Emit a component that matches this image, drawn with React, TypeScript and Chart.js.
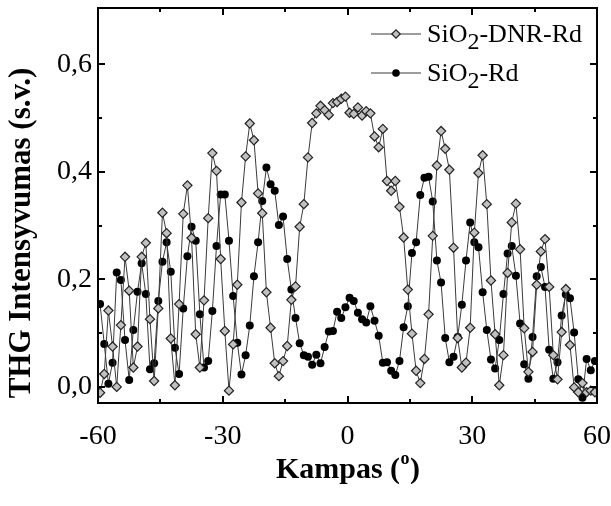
import React, { useEffect, useRef } from "react";
import { Chart, registerables } from "chart.js";

Chart.register(...registerables);

// Rotation angle (degrees) of each measurement
const angles = [
  -59.5, -58.5, -57.5, -56.5, -55.5, -54.5, -53.5, -52.5, -51.5, -50.5,
  -49.5, -48.5, -47.5, -46.5, -45.5, -44.5, -43.5, -42.5, -41.5, -40.5,
  -39.5, -38.5, -37.5, -36.5, -35.5, -34.5, -33.5, -32.5, -31.5, -30.5,
  -29.5, -28.5, -27.5, -26.5, -25.5, -24.5, -23.5, -22.5, -21.5, -20.5,
  -19.5, -18.5, -17.5, -16.5, -15.5, -14.5, -13.5, -12.5, -11.5, -10.5,
  -9.5, -8.5, -7.5, -6.5, -5.5, -4.5, -3.5, -2.5, -1.5, -0.5,
  0.5, 1.5, 2.5, 3.5, 4.5, 5.5, 6.5, 7.5, 8.5, 9.5,
  10.5, 11.5, 12.5, 13.5, 14.5, 15.5, 16.5, 17.5, 18.5, 19.5,
  20.5, 21.5, 22.5, 23.5, 24.5, 25.5, 26.5, 27.5, 28.5, 29.5,
  30.5, 31.5, 32.5, 33.5, 34.5, 35.5, 36.5, 37.5, 38.5, 39.5,
  40.5, 41.5, 42.5, 43.5, 44.5, 45.5, 46.5, 47.5, 48.5, 49.5,
  50.5, 51.5, 52.5, 53.5, 54.5, 55.5, 56.5, 57.5, 58.5, 59.5,
];

// SiO2-DNR-Rd (diamonds)
const dnrRd = [
  -0.011, 0.024, 0.142, 0.075, 0.0, 0.115, 0.242, 0.179, 0.036, 0.075,
  0.242, 0.268, 0.126, 0.011, 0.146, 0.324, 0.286, 0.09, 0.003, 0.154,
  0.322, 0.375, 0.277, 0.098, 0.036, 0.161, 0.314, 0.435, 0.402, 0.238,
  0.104, -0.007, 0.079, 0.19, 0.343, 0.429, 0.49, 0.459, 0.36, 0.323,
  0.176, 0.11, 0.044, 0.02, 0.048, 0.076, 0.162, 0.187, 0.298, 0.34,
  0.427, 0.491, 0.509, 0.523, 0.515, 0.506, 0.528, 0.53, 0.536, 0.54,
  0.51, 0.508, 0.52, 0.505, 0.513, 0.509, 0.466, 0.446, 0.48, 0.383,
  0.365, 0.383, 0.335, 0.278, 0.181, 0.099, 0.03, 0.007, 0.052, 0.135,
  0.281, 0.412, 0.476, 0.443, 0.404, 0.259, 0.091, 0.036, 0.045, 0.11,
  0.287, 0.398, 0.431, 0.34, 0.198, 0.098, 0.003, 0.059, 0.212, 0.306,
  0.341, 0.256, 0.109, 0.028, 0.065, 0.19, 0.252, 0.275, 0.186, 0.059,
  0.014, 0.102, 0.182, 0.078, -0.001, -0.01, 0.007, -0.01, -0.007, -0.01,
];

// SiO2-Rd (filled circles)
const rd = [
  0.154, 0.08, 0.006, 0.045, 0.213, 0.199, 0.087, 0.013, 0.106, 0.177,
  0.23, 0.173, 0.033, 0.044, 0.16, 0.233, 0.269, 0.214, 0.073, 0.024,
  0.146, 0.243, 0.298, 0.272, 0.135, 0.036, 0.048, 0.141, 0.262, 0.358,
  0.358, 0.272, 0.169, 0.082, 0.023, 0.059, 0.114, 0.206, 0.269, 0.346,
  0.408, 0.377, 0.365, 0.301, 0.317, 0.238, 0.181, 0.128, 0.081, 0.059,
  0.056, 0.041, 0.06, 0.044, 0.074, 0.103, 0.104, 0.14, 0.128, 0.148,
  0.166, 0.16, 0.138, 0.126, 0.12, 0.15, 0.123, 0.095, 0.045, 0.046,
  0.03, 0.022, 0.048, 0.111, 0.15, 0.249, 0.269, 0.357, 0.389, 0.391,
  0.345, 0.235, 0.194, 0.091, 0.046, 0.056, 0.093, 0.153, 0.235, 0.306,
  0.269, 0.26, 0.176, 0.106, 0.051, 0.034, 0.087, 0.173, 0.248, 0.262,
  0.207, 0.118, 0.042, 0.015, 0.093, 0.206, 0.223, 0.186, 0.069, 0.015,
  0.046, 0.133, 0.172, 0.165, 0.101, 0.014, -0.02, 0.052, 0.031, 0.048,
];

const seriesNames = ["SiO2-DNR-Rd", "SiO2-Rd"];
const xTicks = [-60, -30, 0, 30, 60];
const xMinorTicks = [-45, -15, 15, 45];
const yTicks = [0, 0.2, 0.4, 0.6];
const yMinorTicks = [0.1, 0.3, 0.5];
const xTitle = ["Kampas (", "o", ")"];
const yTitle = "THG Intensyvumas (s.v.)";

const SERIF = "'Liberation Serif', 'Times New Roman', serif";
const DIAMOND_FILL = "#c0c0c0";
const LINE_COLOR = "#3a3a3a";

function drawMarker(ctx: CanvasRenderingContext2D, kind: string, x: number, y: number, r: number) {
  ctx.beginPath();
  if (kind === "diamond") {
    ctx.moveTo(x - r, y);
    ctx.lineTo(x, y - r);
    ctx.lineTo(x + r, y);
    ctx.lineTo(x, y + r);
    ctx.closePath();
    ctx.fillStyle = DIAMOND_FILL;
    ctx.fill();
    ctx.strokeStyle = "#222";
    ctx.lineWidth = 1.2;
    ctx.stroke();
  } else {
    ctx.arc(x, y, r, 0, Math.PI * 2);
    ctx.fillStyle = "#000";
    ctx.fill();
  }
}

const framePlugin = {
  id: "frameTicks",
  afterDraw(chart: any) {
    const { ctx, chartArea: a, scales } = chart;
    const xs = scales.x;
    const ys = scales.y;
    ctx.save();
    ctx.strokeStyle = "#000";
    ctx.lineWidth = 2;
    ctx.strokeRect(a.left, a.top, a.right - a.left, a.bottom - a.top);
    const xt = (v: number, len: number) => {
      const px = Math.round(xs.getPixelForValue(v));
      ctx.beginPath();
      ctx.moveTo(px, a.bottom);
      ctx.lineTo(px, a.bottom - len);
      ctx.moveTo(px, a.top);
      ctx.lineTo(px, a.top + len);
      ctx.stroke();
    };
    const yt = (v: number, len: number) => {
      const py = Math.round(ys.getPixelForValue(v));
      ctx.beginPath();
      ctx.moveTo(a.left, py);
      ctx.lineTo(a.left + len, py);
      ctx.moveTo(a.right, py);
      ctx.lineTo(a.right - len, py);
      ctx.stroke();
    };
    xTicks.forEach((v) => xt(v, 7));
    xMinorTicks.forEach((v) => xt(v, 4));
    yTicks.forEach((v) => yt(v, 7));
    yMinorTicks.forEach((v) => yt(v, 4));

    // legend
    const kinds = ["diamond", "circle"];
    const rows = [a.top + 26, a.top + 65];
    seriesNames.forEach((name, i) => {
      const y = rows[i];
      const x0 = a.right - 226;
      const x1 = a.right - 176;
      ctx.strokeStyle = LINE_COLOR;
      ctx.lineWidth = 1;
      ctx.beginPath();
      ctx.moveTo(x0, y);
      ctx.lineTo(x1, y);
      ctx.stroke();
      drawMarker(ctx, kinds[i], (x0 + x1) / 2, y, kinds[i] === "diamond" ? 4.2 : 3.8);
      const idx = name.indexOf("2");
      const parts = [name.slice(0, idx), "2", name.slice(idx + 1)];
      let tx = a.right - 170;
      ctx.fillStyle = "#000";
      ctx.textBaseline = "alphabetic";
      ctx.textAlign = "left";
      const base = y + 8;
      ctx.font = `26px ${SERIF}`;
      ctx.fillText(parts[0], tx, base);
      tx += ctx.measureText(parts[0]).width;
      ctx.font = `24px ${SERIF}`;
      ctx.fillText(parts[1], tx, base + 7);
      tx += ctx.measureText(parts[1]).width;
      ctx.font = `26px ${SERIF}`;
      ctx.fillText(parts[2], tx, base);
    });

    // axis titles
    ctx.fillStyle = "#000";
    ctx.textBaseline = "alphabetic";
    ctx.textAlign = "left";
    const big = `bold 30px ${SERIF}`;
    const sup = `bold 18px ${SERIF}`;
    ctx.font = big;
    const w0 = ctx.measureText(xTitle[0]).width;
    const w2 = ctx.measureText(xTitle[2]).width;
    ctx.font = sup;
    const w1 = ctx.measureText(xTitle[1]).width;
    const cx = (a.left + a.right) / 2;
    let tx = cx - (w0 + w1 + w2) / 2;
    const by = 478;
    ctx.font = big;
    ctx.fillText(xTitle[0], tx, by);
    tx += w0;
    ctx.font = sup;
    ctx.fillText(xTitle[1], tx + 0.5, by - 14);
    tx += w1 + 1;
    ctx.font = big;
    ctx.fillText(xTitle[2], tx, by);

    ctx.translate(22, 233);
    ctx.rotate(-Math.PI / 2);
    ctx.textAlign = "center";
    ctx.textBaseline = "middle";
    ctx.font = `bold 31px ${SERIF}`;
    ctx.fillText(yTitle, 0, 0);
    ctx.restore();
  },
};

export default function App() {
  const ref = useRef<HTMLCanvasElement | null>(null);
  useEffect(() => {
    if (!ref.current) return;
    const chart = new Chart(ref.current, {
      type: "line",
      data: {
        datasets: [
          {
            label: seriesNames[0],
            data: angles.map((x, i) => ({ x, y: dnrRd[i] })),
            borderColor: LINE_COLOR,
            borderWidth: 1,
            pointStyle: "rectRot",
            pointRadius: 4.6,
            pointBackgroundColor: DIAMOND_FILL,
            pointBorderColor: "#222",
            pointBorderWidth: 1.2,
            tension: 0,
            fill: false,
          },
          {
            label: seriesNames[1],
            data: angles.map((x, i) => ({ x, y: rd[i] })),
            borderColor: LINE_COLOR,
            borderWidth: 1,
            pointStyle: "circle",
            pointRadius: 4,
            pointBackgroundColor: "#000",
            pointBorderColor: "#000",
            pointBorderWidth: 0,
            tension: 0,
            fill: false,
          },
        ],
      },
      options: {
        animation: false,
        responsive: false,
        devicePixelRatio: 1,
        layout: { padding: { left: 0, top: 8, right: 14, bottom: 0 } },
        plugins: { legend: { display: false }, tooltip: { enabled: false } },
        scales: {
          x: {
            type: "linear",
            min: -60,
            max: 60,
            afterBuildTicks: (s: any) => {
              s.ticks = xTicks.map((v) => ({ value: v }));
            },
            afterFit: (s: any) => {
              s.height = 103;
              s.paddingLeft = 0;
              s.paddingRight = 0;
            },
            ticks: {
              autoSkip: false,
              maxRotation: 0,
              padding: 17,
              color: "#000",
              font: { family: SERIF, size: 28 },
              callback: (v: any) => String(v),
            },
            grid: { display: false, drawTicks: false },
            border: { display: false },
          },
          y: {
            type: "linear",
            min: -0.03,
            max: 0.705,
            afterBuildTicks: (s: any) => {
              s.ticks = yTicks.map((v) => ({ value: v }));
            },
            afterFit: (s: any) => {
              s.width = 98;
              s.paddingTop = 0;
              s.paddingBottom = 0;
            },
            ticks: {
              padding: 6,
              color: "#000",
              font: { family: SERIF, size: 28 },
              callback: (v: any) => Number(v).toFixed(1).replace(".", ","),
            },
            grid: { display: false, drawTicks: false },
            border: { display: false },
          },
        },
      },
      plugins: [framePlugin],
    });
    return () => chart.destroy();
  }, []);
  return (
    <div style={{ position: "fixed", left: 0, top: 0, width: 611, height: 506, background: "#fff" }}>
      <canvas ref={ref} width={611} height={506} style={{ display: "block" }} />
    </div>
  );
}
